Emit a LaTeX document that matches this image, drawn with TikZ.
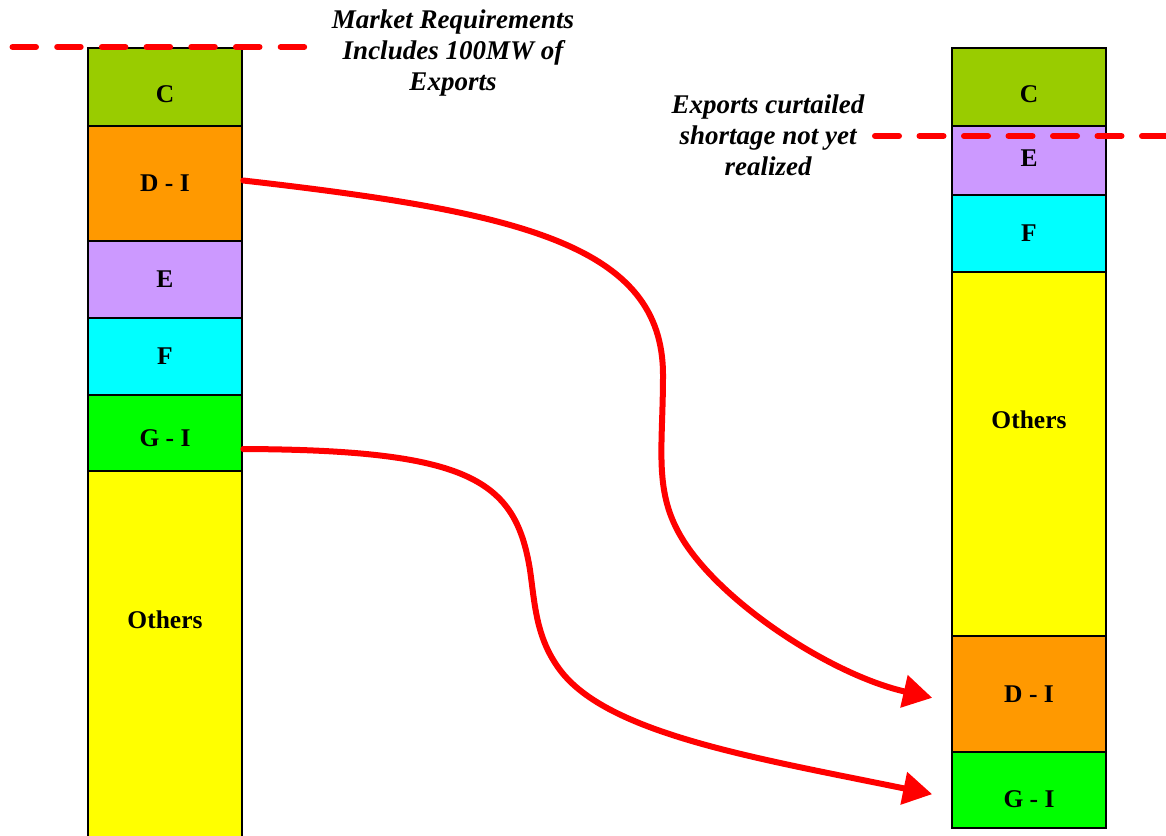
\documentclass[tikz,border=0pt]{standalone}
\usepackage{fontspec}
\setmainfont{Liberation Serif}
\usetikzlibrary{arrows.meta}
\definecolor{segC}{HTML}{99CC00}
\definecolor{segD}{HTML}{FF9900}
\definecolor{segE}{HTML}{CC99FF}
\definecolor{segF}{HTML}{00FFFF}
\definecolor{segG}{HTML}{00FF00}
\definecolor{segO}{HTML}{FFFF00}
\begin{document}
\begin{tikzpicture}[x=1pt,y=-1pt,
  seg/.style={draw=black, line width=2.5pt, minimum width=154pt, inner sep=0pt,
    font=\fontsize{25.5}{30}\selectfont\bfseries},
  lab/.style={inner sep=0pt, font=\fontsize{25.5}{30}\selectfont\bfseries},
  flow/.style={draw=red, line width=6pt, line cap=round,
    -{Triangle[length=29pt,width=32pt]}, shorten >=19pt},
  limit/.style={draw=red, line width=6pt, line cap=round},
  note/.style={font=\fontsize{27}{31}\selectfont\bfseries\itshape, align=center, inner sep=0pt}
]
\clip (0,0) rectangle (1166,835);

% left stack
\node[seg, fill=segC, minimum height=78pt, text height=31pt]  (LC) at (165,87)    {C};
\node[seg, fill=segD, minimum height=115pt] (LD) at (165,183.5) {D - I};
\node[seg, fill=segE, minimum height=77pt]  (LE) at (165,279.5) {E};
\node[seg, fill=segF, minimum height=77pt]  (LF) at (165,356.5) {F};
\node[seg, fill=segG, minimum height=76pt, text height=27pt]  (LG) at (165,433)   {G - I};
\node[seg, fill=segO, minimum height=380pt] (LO) at (165,661)   {};
\node[lab] (LOt) at (165,620) {Others};

% right stack
\node[seg, fill=segC, minimum height=78pt, text height=31pt]  (RC) at (1029,87)    {C};
\node[seg, fill=segE, minimum height=69pt, text depth=5pt]    (RE) at (1029,160.5) {E};
\node[seg, fill=segF, minimum height=77pt]  (RF) at (1029,233.5) {F};
\node[seg, fill=segO, minimum height=364pt] (RO) at (1029,454)   {};
\node[lab] (ROt) at (1029,420) {Others};
\node[seg, fill=segD, minimum height=116pt] (RD) at (1029,694)   {D - I};
\node[seg, fill=segG, minimum height=76pt, text height=35pt]  (RG) at (1029,790)   {G - I};

% requirement levels
\draw[limit, dash pattern=on 23.5pt off 21.2pt] (12.5,47) -- (305,47);
\draw[limit, dash pattern=on 24pt off 20.5pt] (875,136) -- (1175,136);

\node[note] (req) at (453,53) {Market Requirements\\Includes 100MW of\\Exports};
\node[note] (cut) at (768,135) {Exports curtailed\\shortage not yet\\realized};

% moved blocks
\draw[flow] ([yshift=3pt]LD.east)
  .. controls (520,212) and (663,245) .. (663,375)
  .. controls (663,450) and (653,492) .. (683,540)
  .. controls (723,604) and (832,675) .. ([yshift=-8pt]RD.west);
\draw[flow] ([yshift=-16pt]LG.east)
  .. controls (470,450) and (515.6,480) .. (530,570)
  .. controls (535,605) and (536,638) .. (560,670)
  .. controls (608,734) and (756,758) .. ([yshift=-8pt]RG.west);
\end{tikzpicture}
\end{document}
